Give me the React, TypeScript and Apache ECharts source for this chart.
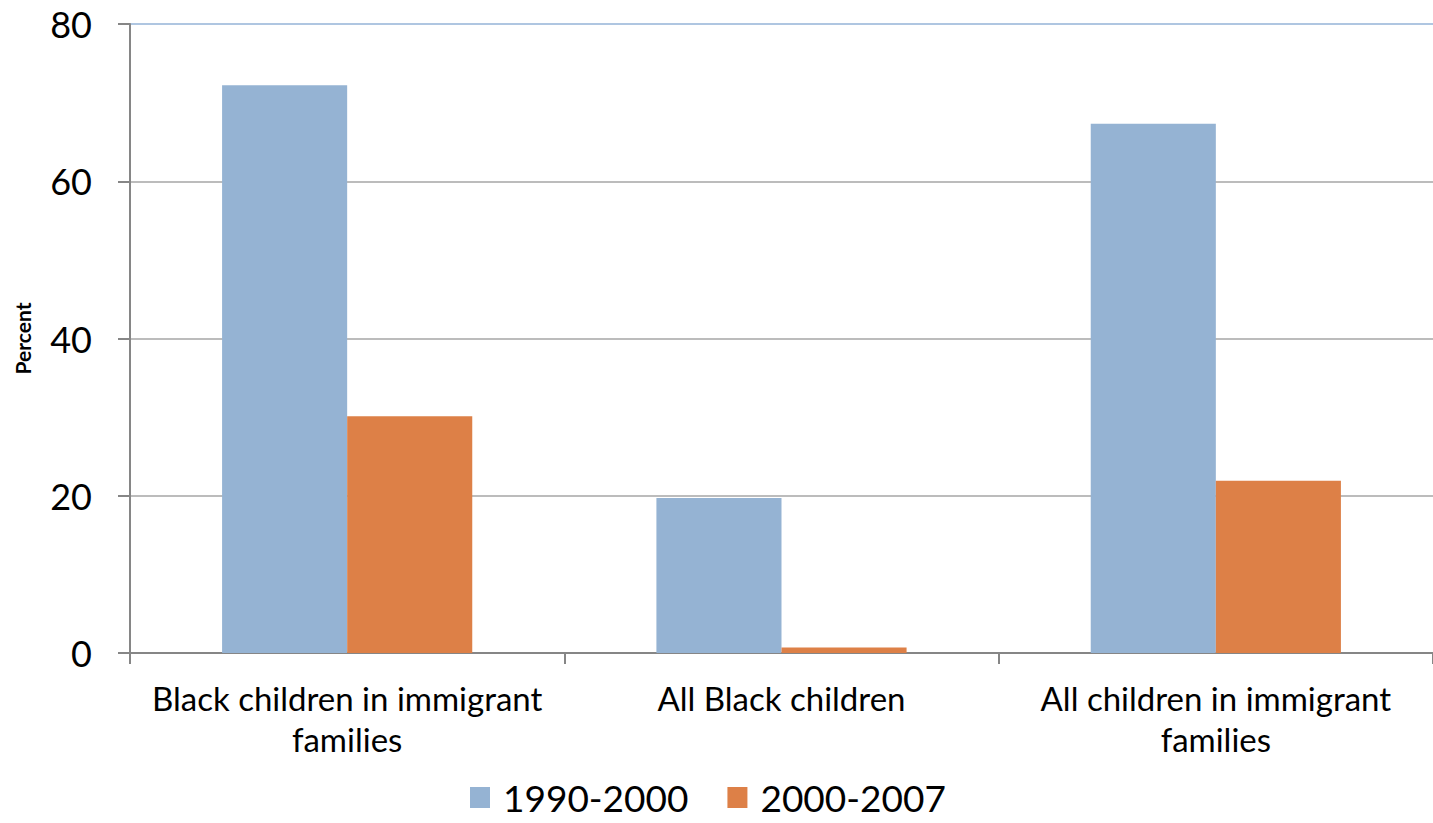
import React, { useEffect, useRef } from "react";
import * as echarts from "echarts";

// Child population growth by period, percent
const categories = [
  "Black children in immigrant\nfamilies",
  "All Black children",
  "All children in immigrant\nfamilies",
];
const seriesNames = ["1990-2000", "2000-2007"];
const growth1990to2000 = [72.2, 19.7, 67.3];
const growth2000to2007 = [30.1, 0.7, 21.9];
const yTicks = [0, 20, 40, 60, 80];

const FONT = "Lato, 'Open Sans', sans-serif";

export default function App() {
  const ref = useRef<HTMLDivElement>(null);

  useEffect(() => {
    if (!ref.current) return;
    const chart = echarts.init(ref.current, undefined, { renderer: "svg" });
    chart.setOption({
      animation: false,
      backgroundColor: "#ffffff",
      textStyle: { fontFamily: FONT },
      grid: { left: 130, right: 0, top: 24, bottom: 170, containLabel: false },
      legend: {
        bottom: 2,
        left: 465,
        itemWidth: 20,
        itemHeight: 21,
        itemGap: 39,
        icon: "rect",
        textStyle: { fontSize: 37, color: "#000", fontFamily: FONT, padding: [0, 0, 0, 8] },
        data: seriesNames,
      },
      xAxis: {
        type: "category",
        data: categories,
        axisLine: { lineStyle: { color: "#868686", width: 2 } },
        axisTick: { show: true, length: 11, lineStyle: { color: "#868686", width: 2 } },
        axisLabel: {
          fontSize: 33,
          color: "#000",
          lineHeight: 41,
          margin: 24,
          interval: 0,
        },
      },
      yAxis: {
        type: "value",
        min: yTicks[0],
        max: yTicks[yTicks.length - 1],
        interval: 20,
        name: "Percent",
        nameLocation: "middle",
        nameGap: 97,
        nameRotate: 90,
        nameTextStyle: { fontSize: 21, fontWeight: "bold", color: "#000", fontFamily: FONT },
        axisLine: { show: true, lineStyle: { color: "#868686", width: 2 } },
        axisTick: { show: true, inside: false, length: 12, lineStyle: { color: "#868686", width: 2 } },
        axisLabel: { fontSize: 36, color: "#000", margin: 38 },
        splitLine: {
          show: true,
          lineStyle: {
            color: ["#a6a6a6", "#a6a6a6", "#a6a6a6", "#a6a6a6", "#95b3d7"],
            width: 1.5,
          },
        },
      },
      series: [
        {
          name: seriesNames[0],
          type: "bar",
          data: growth1990to2000,
          barGap: "0%",
          barCategoryGap: "42.4%",
          itemStyle: { color: "#95b3d3" },
        },
        {
          name: seriesNames[1],
          type: "bar",
          data: growth2000to2007,
          barGap: "0%",
          barCategoryGap: "42.4%",
          itemStyle: { color: "#dd8047" },
        },
      ],
    });
    return () => chart.dispose();
  }, []);

  return (
    <div
      ref={ref}
      style={{ position: "fixed", left: 0, top: 0, width: 1433, height: 823 }}
    />
  );
}
